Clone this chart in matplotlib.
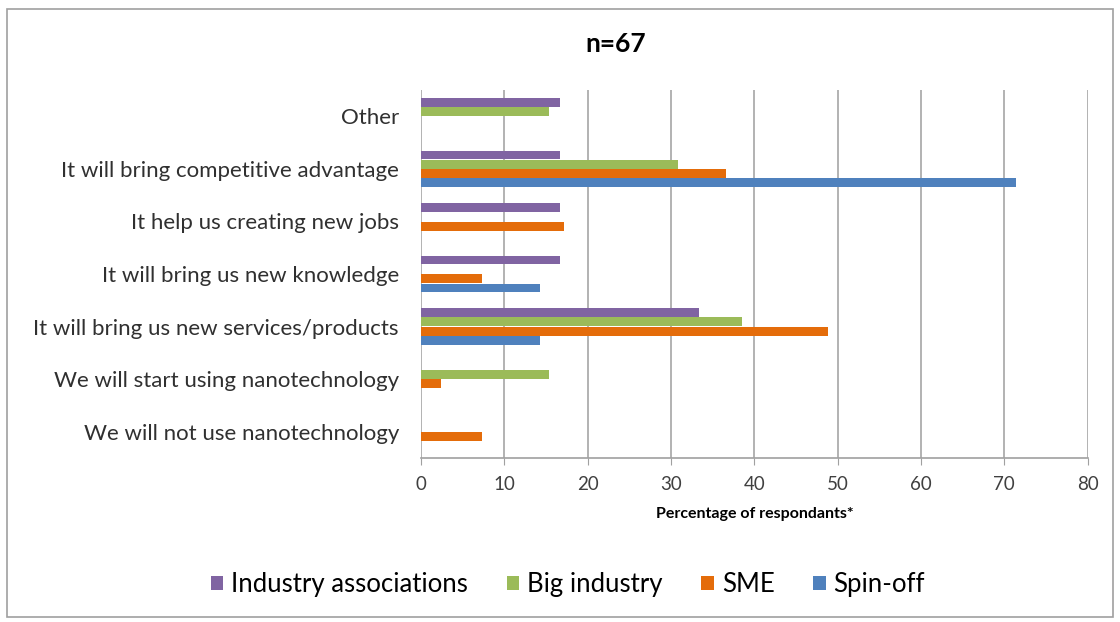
import matplotlib
matplotlib.use("Agg")
import matplotlib.pyplot as plt
import numpy as np
from matplotlib.patches import Rectangle

categories = ["We will not use nanotechnology", "We will start using nanotechnology",
              "It will bring us new services/products", "It will bring us new knowledge",
              "It help us creating new jobs", "It will bring competitive advantage", "Other"]
series_names = ["Spin-off", "SME", "Big industry", "Industry associations"]
spin_off = [0, 0, 14.3, 14.3, 0, 71.4, 0]
sme = [7.3, 2.4, 48.8, 7.3, 17.1, 36.6, 0]
big_industry = [0, 15.4, 38.5, 0, 0, 30.8, 15.4]
industry_assoc = [0, 0, 33.3, 16.7, 16.7, 16.7, 16.7]
colors = ["#4F81BD", "#E46C0A", "#9BBB59", "#8064A2"]
xticks = list(range(0, 81, 10))

plt.rcParams['font.family'] = ['Lato', 'DejaVu Sans']

fig = plt.figure(figsize=(11.2, 6.22), dpi=100)
fig.patches.append(Rectangle((0.006, 0.008), 0.988, 0.978, transform=fig.transFigure,
                             fill=False, edgecolor="#A0A0A0", linewidth=1.2))
ax = fig.add_axes([0.376, 0.264, 0.595, 0.591])

data = [spin_off, sme, big_industry, industry_assoc]
y = np.arange(len(categories))
h = 0.177
for i, (vals, c, name) in enumerate(zip(data, colors, series_names)):
    ax.barh(y + (i - 1.5) * h, vals, height=h * 0.95, color=c, label=name, zorder=3)

ax.set_xlim(0, 80)
ax.set_ylim(-0.5, len(categories) - 0.5)
ax.set_xticks(xticks)
ax.set_xticklabels([str(t) for t in xticks], fontsize=13.5, color="#404040")
ax.set_yticks(y)
ax.set_yticklabels(categories, fontsize=16, color="#303030")
ax.tick_params(axis='y', length=0, pad=16)
ax.tick_params(axis='x', length=5, color="#A0A0A0", pad=8)
ax.grid(axis='x', color="#A6A6A6", linewidth=1.2, zorder=0)
for s in ["top", "right", "left"]:
    ax.spines[s].set_visible(False)
ax.spines["bottom"].set_color("#A0A0A0")
ax.spines["bottom"].set_linewidth(1.2)
ax.set_xlabel("Percentage of respondants*", fontsize=11.5, fontweight="bold", labelpad=10)

fig.text(0.55, 0.93, "n=67", ha="center", va="center", fontsize=19, fontweight="bold")

handles, labels = ax.get_legend_handles_labels()
fig.legend(handles[::-1], labels[::-1], loc="center", bbox_to_anchor=(0.507, 0.06), ncol=4,
           frameon=False, fontsize=18.5, handlelength=0.5, handleheight=0.5,
           handletextpad=0.3, columnspacing=1.5)

fig.savefig("out.png", dpi=100, facecolor="white")
